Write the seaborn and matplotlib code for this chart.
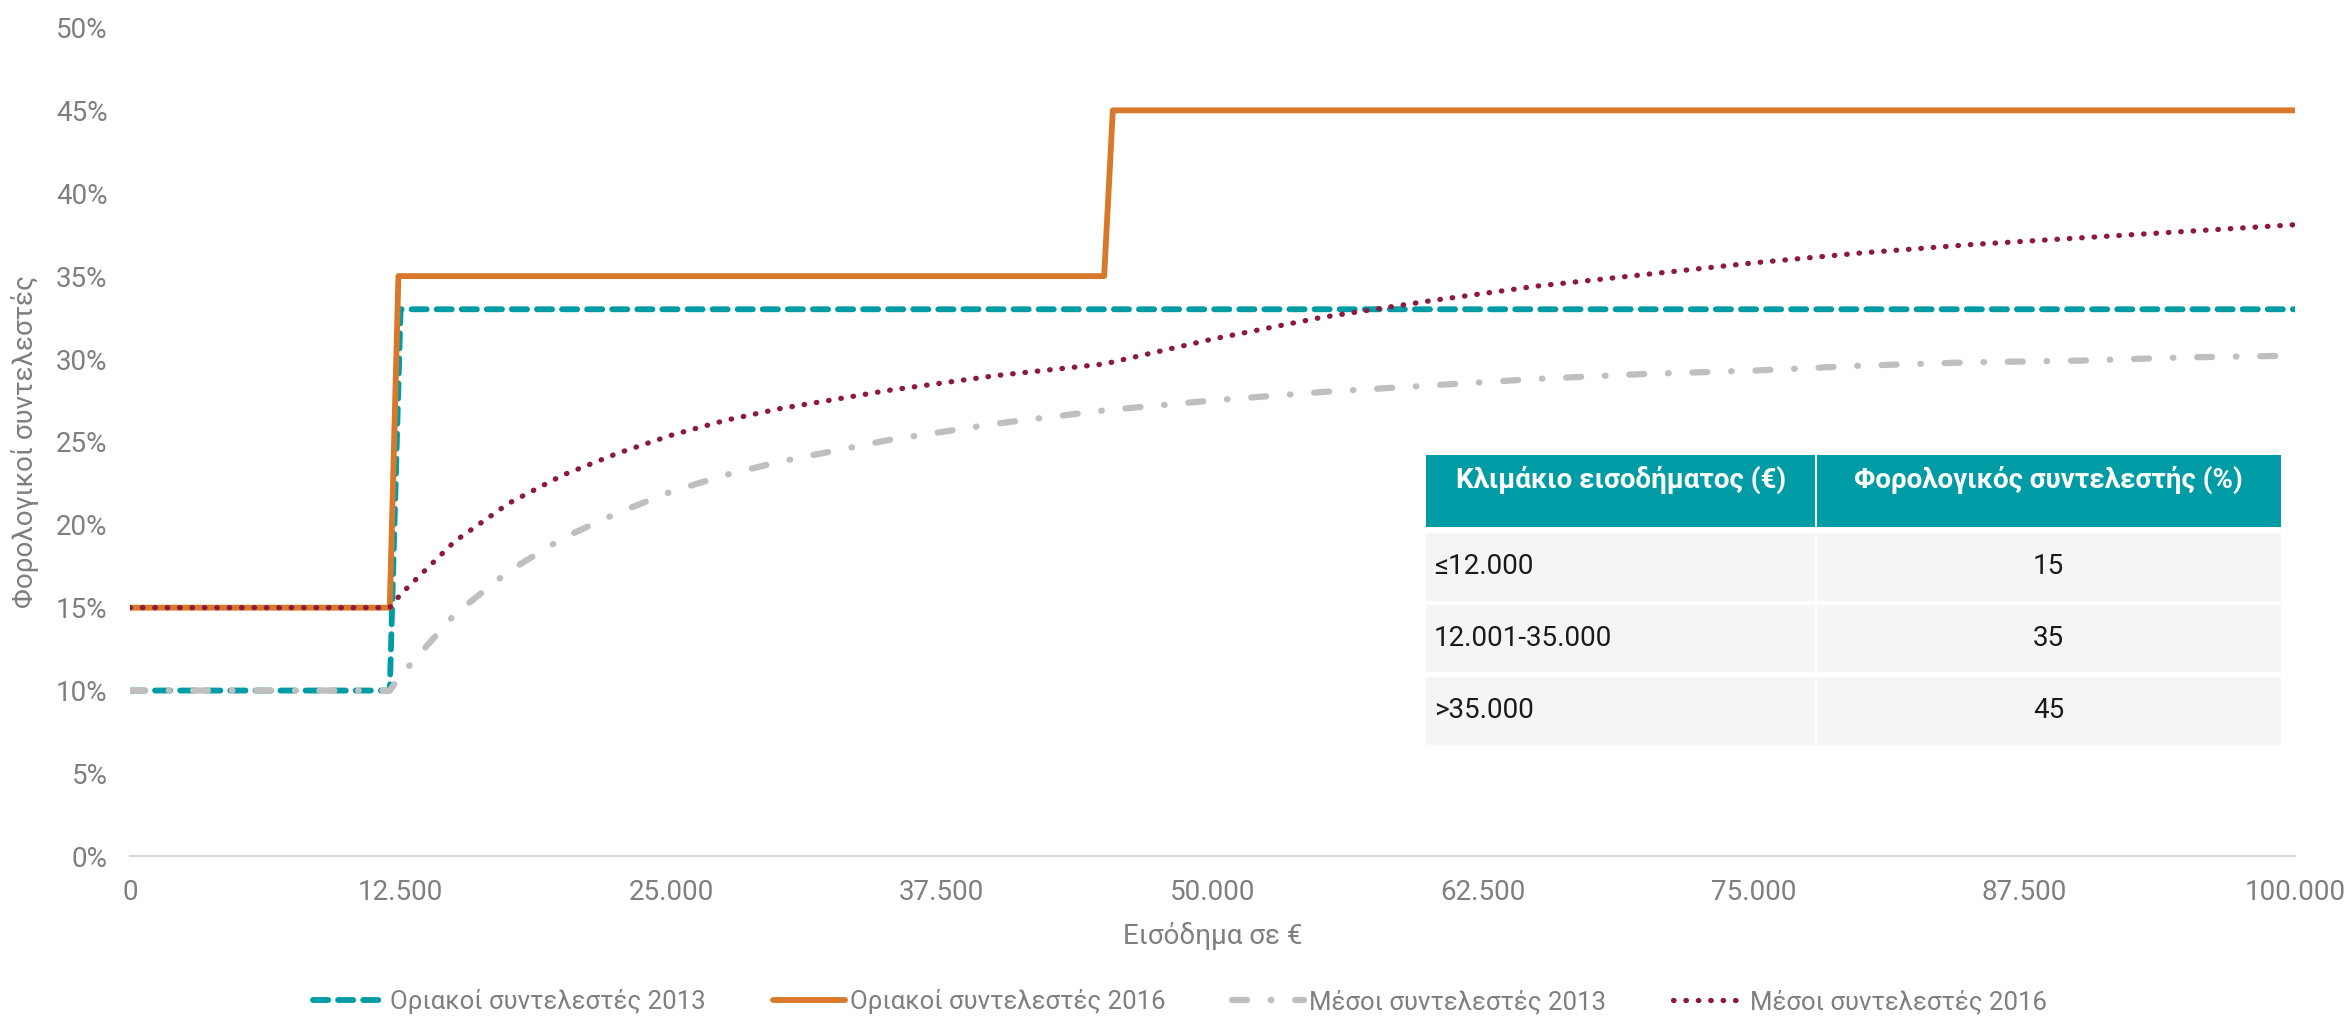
import matplotlib
matplotlib.use("Agg")
import matplotlib.pyplot as plt
import seaborn as sns
from matplotlib.patches import Rectangle
from matplotlib.ticker import FuncFormatter, MultipleLocator

# Marginal rates (step lines)
xMarg2013 = [0, 12000, 12500, 100000]
yMarg2013 = [10, 10, 33, 33]
xMarg2016 = [0, 12000, 12400, 45000, 45400, 100000]
yMarg2016 = [15, 15, 35, 35, 45, 45]

# Average rates
xAvg = [0, 12000, 12500, 15000, 17500, 20000, 22500, 25000, 27500, 30000,
        35000, 40000, 45000, 50000, 55000, 60000, 65000, 70000, 75000,
        80000, 85000, 90000, 95000, 100000]
yAvg2013 = [10, 10, 10.9, 14.6, 17.2, 19.2, 20.7, 22.0, 23.0, 23.8,
            25.1, 26.1, 26.9, 27.5, 28.0, 28.4, 28.8, 29.1, 29.3,
            29.6, 29.8, 29.9, 30.1, 30.2]
yAvg2016 = [15, 15, 15.8, 19.0, 21.3, 23.0, 24.3, 25.4, 26.3, 27.0,
            28.1, 29.0, 29.7, 31.2, 32.5, 33.5, 34.4, 35.1, 35.8,
            36.4, 36.9, 37.3, 37.7, 38.1]

seriesLabels = ["Οριακοί συντελεστές 2013", "Οριακοί συντελεστές 2016",
                "Μέσοι συντελεστές 2013", "Μέσοι συντελεστές 2016"]

tableHeader = ["Κλιμάκιο εισοδήματος (€)", "Φορολογικός συντελεστής (%)"]
tableBrackets = ["≤12.000", "12.001-35.000", ">35.000"]
tableRates = ["15", "35", "45"]

teal = "#009CA6"
orange = "#D8782A"
grey = "#BFBFBF"
maroon = "#8C1A3C"
textGrey = "#7F7F7F"
fs = 20

sns.set_style("white")
plt.rcParams["font.family"] = ["Roboto", "DejaVu Sans"]

fig = plt.figure(figsize=(23.46, 10.17), dpi=100)
ax = fig.add_axes([0.0554, 0.158, 0.9228, 0.815])

sns.lineplot(x=xMarg2013, y=yMarg2013, ax=ax, color=teal, lw=4.2, sort=False,
             linestyle=(0, (2.6, 1.7)), dash_capstyle="round", label=seriesLabels[0])
sns.lineplot(x=xMarg2016, y=yMarg2016, ax=ax, color=orange, lw=4.2, sort=False,
             solid_joinstyle="round", label=seriesLabels[1])
sns.lineplot(x=xAvg, y=yAvg2013, ax=ax, color=grey, lw=4.5, sort=False,
             linestyle=(0, (2.4, 3.8, 0.1, 3.8)), dash_capstyle="round",
             label=seriesLabels[2])
sns.lineplot(x=xAvg, y=yAvg2016, ax=ax, color=maroon, lw=3.8, sort=False,
             linestyle=(0, (0.1, 2.25)), dash_capstyle="round",
             label=seriesLabels[3])

ax.set_xlim(0, 100000)
ax.set_ylim(0, 50)
ax.xaxis.set_major_locator(MultipleLocator(12500))
ax.yaxis.set_major_locator(MultipleLocator(5))
ax.xaxis.set_major_formatter(FuncFormatter(lambda v, p: f"{int(v):,}".replace(",", ".")))
ax.yaxis.set_major_formatter(FuncFormatter(lambda v, p: f"{int(v)}%"))
ax.tick_params(axis="both", length=0, labelsize=fs, colors=textGrey)
ax.tick_params(axis="x", pad=16)
ax.tick_params(axis="y", pad=16)
for side in ["top", "right", "left"]:
    ax.spines[side].set_visible(False)
ax.spines["bottom"].set_color("#D9D9D9")
ax.spines["bottom"].set_linewidth(1.5)

ax.set_xlabel("Εισόδημα σε €", fontsize=fs, color=textGrey, labelpad=12)
ax.set_ylabel("Φορολογικοί συντελεστές", fontsize=fs, color=textGrey, labelpad=12)

ax.get_legend().remove()
handles, labels = ax.get_legend_handles_labels()
fig.legend(handles, labels, loc="lower center", ncol=4, frameon=False,
           bbox_to_anchor=(0.503, -0.02), fontsize=18.5, handlelength=2.8,
           handletextpad=0.2, columnspacing=2.6, labelcolor=textGrey)

# Inset table in figure pixel coordinates
W, H = 2346, 1017
left, right, split = 1426, 2281, 1816
headerTop, headerBot = 455, 527
rowEdges = [(533, 601), (605, 672), (677, 745)]


def box(x0, y0, x1, y1, color):
    fig.patches.append(Rectangle((x0 / W, 1 - y1 / H), (x1 - x0) / W, (y1 - y0) / H,
                                 transform=fig.transFigure, facecolor=color,
                                 edgecolor="none", zorder=5))


box(left, headerTop, split - 1, headerBot, teal)
box(split + 1, headerTop, right, headerBot, teal)
fig.text((left + split) / 2 / W, 1 - 480 / H, tableHeader[0], ha="center", va="center",
         color="white", fontsize=fs, fontweight="bold", zorder=6)
fig.text((split + right) / 2 / W, 1 - 480 / H, tableHeader[1], ha="center", va="center",
         color="white", fontsize=fs, fontweight="bold", zorder=6)
for (y0, y1), bracket, rate in zip(rowEdges, tableBrackets, tableRates):
    box(left, y0, split - 1, y1, "#F5F5F5")
    box(split + 1, y0, right, y1, "#F5F5F5")
    yc = 1 - (y0 + y1) / 2 / H
    fig.text((left + 8) / W, yc, bracket, ha="left", va="center",
             color="#1A1A1A", fontsize=fs, zorder=6)
    fig.text((split + right) / 2 / W, yc, rate, ha="center", va="center",
             color="#1A1A1A", fontsize=fs, zorder=6)

fig.savefig("out.png", dpi=100)
